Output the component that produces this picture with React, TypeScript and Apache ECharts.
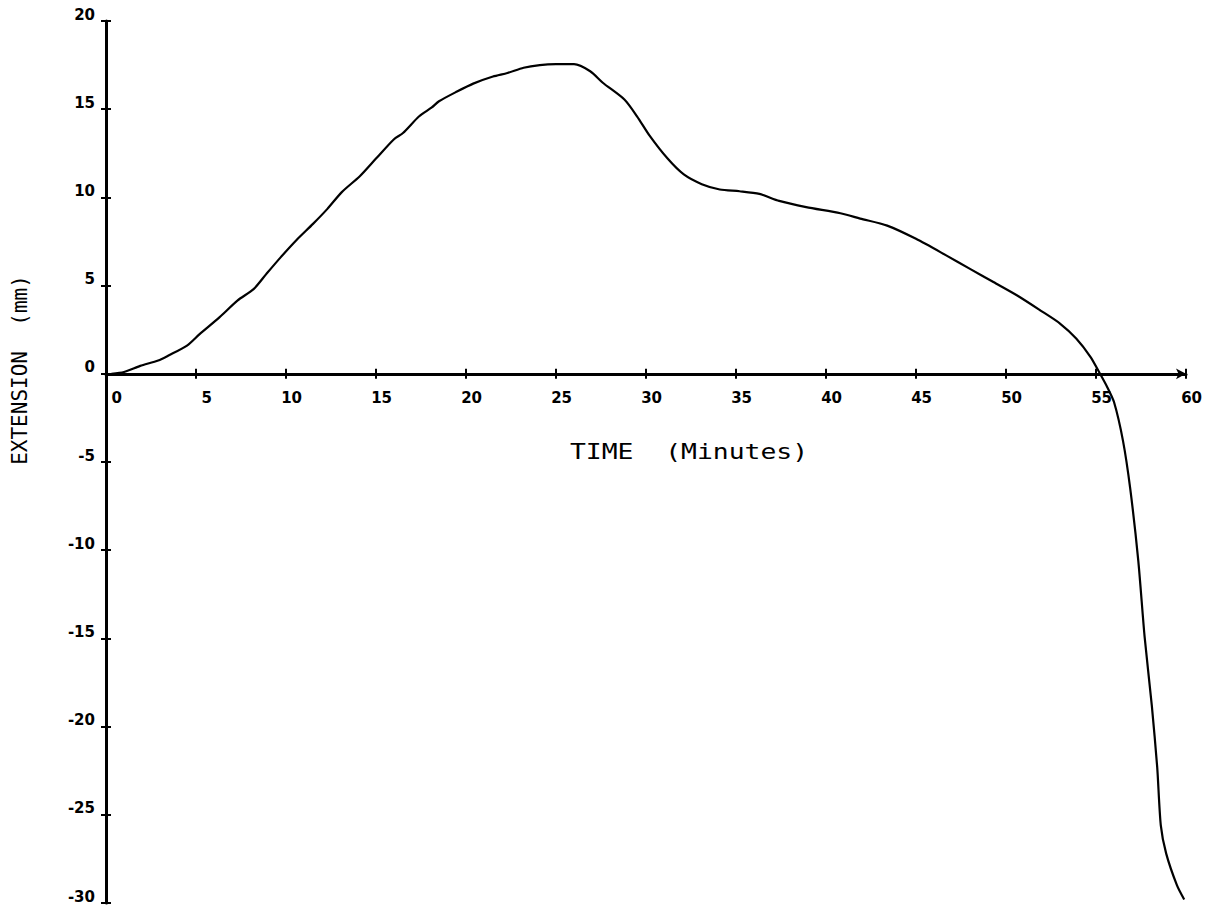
import React, { useEffect, useRef } from "react";
import * as echarts from "echarts";

// Elapsed time (minutes) and specimen extension (mm)
const timeMin: number[] = [
  0.3, 1.0, 1.9, 2.9, 3.5, 4.5, 5.2, 6.3, 7.3, 8.2, 8.9, 9.7, 10.6, 11.5, 12.3,
  13.1, 14.1, 15.0, 16.0, 16.5, 17.4, 18.1, 18.5, 19.5, 20.4, 21.5, 22.3, 23.2,
  24.1, 25.0, 26.0, 26.9, 27.6, 28.8, 29.5, 30.2, 31.2, 32.1, 33.1, 34.1, 35.2,
  36.3, 37.4, 38.9, 40.8, 41.9, 43.4, 45.0, 46.7, 48.0, 49.3, 50.6, 51.9, 53.0,
  53.9, 54.7, 55.2, 55.6, 56.0, 56.5, 56.9, 57.35, 57.7, 58.1, 58.4, 58.6, 58.9,
  59.5, 59.9,
];
const extensionMm: number[] = [
  0, 0.1, 0.45, 0.75, 1.05, 1.6, 2.25, 3.2, 4.15, 4.8, 5.65, 6.6, 7.6, 8.5, 9.35,
  10.3, 11.2, 12.2, 13.3, 13.65, 14.6, 15.1, 15.45, 16.0, 16.45, 16.85, 17.05,
  17.35, 17.5, 17.55, 17.55, 17.15, 16.5, 15.55, 14.6, 13.5, 12.2, 11.3, 10.75,
  10.45, 10.35, 10.2, 9.8, 9.45, 9.1, 8.8, 8.4, 7.65, 6.7, 5.95, 5.2, 4.45, 3.6,
  2.85, 2.0, 0.95, 0.05, -0.7, -1.6, -3.8, -6.5, -10.6, -14.9, -18.8, -22.3,
  -25.6, -27.2, -29.0, -29.8,
];

const xTitle = "TIME  (Minutes)";
const yTitle = "EXTENSION  (mm)";

const X_MIN = 0;
const X_MAX = 60;
const X_STEP = 5;
const Y_MIN = -30;
const Y_MAX = 20;
const Y_STEP = 5;

const W = 1209;
const H = 909;
const GRID = { left: 106, right: 23, top: 21, bottom: 6 };

const INK = "#000000";
const labelFont = {
  fontFamily: "DejaVu Sans",
  fontWeight: "bold" as const,
  fontSize: 15,
  color: INK,
};

export default function App() {
  const ref = useRef<HTMLDivElement>(null);

  useEffect(() => {
    if (!ref.current) return;
    const chart = echarts.init(ref.current, undefined, { renderer: "svg" });

    const points = timeMin.map((t, i) => [t, extensionMm[i]]);

    // the time axis is drawn across the plot at extension = 0
    const plotH = H - GRID.top - GRID.bottom;
    const zeroY = GRID.top + (plotH * (Y_MAX - 0)) / (Y_MAX - Y_MIN);
    const xAxisOffset = -(H - GRID.bottom - zeroY);

    const xBase = {
      type: "value" as const,
      min: X_MIN,
      max: X_MAX,
      interval: X_STEP,
      position: "bottom" as const,
      offset: xAxisOffset,
      splitLine: { show: false },
    };
    const yBase = {
      type: "value" as const,
      min: Y_MIN,
      max: Y_MAX,
      interval: Y_STEP,
      position: "left" as const,
      splitLine: { show: false },
    };

    chart.setOption({
      animation: false,
      backgroundColor: "#ffffff",
      grid: { ...GRID, containLabel: false },
      xAxis: [
        {
          ...xBase,
          axisLine: {
            show: true,
            onZero: false,
            symbol: ["none", "arrow"],
            symbolSize: [8, 10],
            lineStyle: { color: INK, width: 3 },
          },
          axisTick: { show: true, inside: false, length: 5, lineStyle: { color: INK, width: 2 } },
          axisLabel: {
            ...labelFont,
            align: "right",
            verticalAlign: "top",
            margin: 17,
            padding: [0, -16, 0, 0],
          },
        },
        {
          // upper half of the cross-shaped ticks
          ...xBase,
          axisLine: { show: false, onZero: false },
          axisTick: { show: true, inside: true, length: 5, lineStyle: { color: INK, width: 2 } },
          axisLabel: { show: false },
        },
      ],
      yAxis: [
        {
          ...yBase,
          axisLine: { show: true, onZero: false, lineStyle: { color: INK, width: 3 } },
          axisTick: { show: true, inside: false, length: 5, lineStyle: { color: INK, width: 2 } },
          axisLabel: {
            ...labelFont,
            align: "right",
            verticalAlign: "bottom",
            margin: 11,
            padding: [0, 0, -1, 0],
          },
        },
        {
          // right half of the cross-shaped ticks
          ...yBase,
          axisLine: { show: false, onZero: false },
          axisTick: { show: true, inside: true, length: 5, lineStyle: { color: INK, width: 2 } },
          axisLabel: { show: false },
        },
      ],
      series: [
        {
          type: "line",
          xAxisIndex: 0,
          yAxisIndex: 0,
          data: points,
          showSymbol: false,
          smooth: 0.25,
          lineStyle: { color: INK, width: 2.2 },
          z: 3,
        },
      ],
      graphic: [
        {
          type: "text",
          x: 689,
          y: 451,
          scaleX: 1.2,
          style: {
            text: xTitle,
            fontFamily: "DejaVu Sans Mono",
            fontSize: 22,
            fill: INK,
            textAlign: "center",
            textVerticalAlign: "middle",
          },
        },
        {
          type: "text",
          x: 20,
          y: 370,
          rotation: Math.PI / 2,
          style: {
            text: yTitle,
            fontFamily: "DejaVu Sans Mono",
            fontSize: 21,
            fill: INK,
            textAlign: "center",
            textVerticalAlign: "middle",
          },
        },
      ],
    });

    return () => chart.dispose();
  }, []);

  return (
    <div
      ref={ref}
      style={{ position: "absolute", left: 0, top: 0, width: W, height: H }}
    />
  );
}
